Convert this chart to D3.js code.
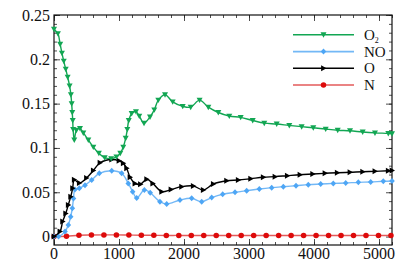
<!DOCTYPE html>
<html>
<head>
<meta charset="utf-8">
<script src="https://cdn.jsdelivr.net/npm/d3@7/dist/d3.min.js"></script>
</head>
<body style="margin:0">
<script>
var svgWidth = 415;
var svgHeight = 277;

// O2 (green)
var o2Time = [0, 60, 95, 122, 150, 180, 210, 240, 260, 272, 281, 288, 294, 312, 345, 400, 451, 528, 605, 690, 780, 880, 960, 1020, 1066, 1103, 1128, 1150, 1195, 1261, 1312, 1385, 1477, 1543, 1605, 1708, 1826, 1980, 2103, 2240, 2374, 2528, 2697, 2872, 3057, 3235, 3426, 3620, 3810, 3989, 4180, 4365, 4554, 4749, 4938, 5143, 5200];
var o2Value = [0.234, 0.229, 0.217, 0.207, 0.198, 0.189, 0.180, 0.170, 0.160, 0.150, 0.140, 0.131, 0.121, 0.109, 0.120, 0.122, 0.117, 0.109, 0.101, 0.094, 0.089, 0.088, 0.090, 0.094, 0.101, 0.111, 0.121, 0.131, 0.139, 0.141, 0.136, 0.128, 0.135, 0.143, 0.154, 0.160, 0.152, 0.147, 0.146, 0.154, 0.146, 0.140, 0.136, 0.1345, 0.131, 0.128, 0.127, 0.1254, 0.124, 0.1228, 0.1213, 0.120, 0.1194, 0.118, 0.117, 0.1164, 0.116];

// NO (blue)
var noTime = [0, 70, 170, 220, 257, 282, 300, 323, 390, 477, 580, 697, 888, 1041, 1143, 1210, 1272, 1390, 1480, 1630, 1734, 1938, 2118, 2272, 2426, 2595, 2785, 2964, 3159, 3349, 3528, 3723, 3912, 4103, 4297, 4488, 4682, 4872, 5066, 5200];
var noValue = [0, 0, 0.0056, 0.013, 0.0225, 0.032, 0.043, 0.053, 0.0545, 0.058, 0.0638, 0.0714, 0.0743, 0.0714, 0.060, 0.0507, 0.0435, 0.0526, 0.0495, 0.0394, 0.0368, 0.0413, 0.0432, 0.0394, 0.044, 0.0477, 0.050, 0.0518, 0.0537, 0.0552, 0.0563, 0.0574, 0.0586, 0.0593, 0.060, 0.0605, 0.0612, 0.0616, 0.0624, 0.0627];

// O (black)
var oTime = [0, 92, 133, 180, 220, 257, 287, 312, 390, 500, 605, 708, 888, 1000, 1066, 1118, 1170, 1246, 1330, 1426, 1520, 1657, 1800, 1964, 2143, 2297, 2451, 2656, 2835, 3026, 3220, 3400, 3590, 3785, 3980, 4170, 4358, 4554, 4749, 4938, 5143, 5200];
var oValue = [0, 0.0056, 0.017, 0.026, 0.0357, 0.045, 0.0545, 0.064, 0.0605, 0.066, 0.0745, 0.0833, 0.087, 0.0855, 0.0826, 0.077, 0.067, 0.060, 0.059, 0.0646, 0.060, 0.0507, 0.053, 0.0563, 0.0571, 0.0526, 0.0593, 0.063, 0.0638, 0.0653, 0.0669, 0.0676, 0.0687, 0.0698, 0.0706, 0.0714, 0.072, 0.0725, 0.0732, 0.0736, 0.0743, 0.0745];

// N (red)
var nTime = [0, 192, 384, 576, 768, 960, 1152, 1344, 1536, 1728, 1920, 2112, 2304, 2496, 2688, 2880, 3072, 3264, 3456, 3648, 3840, 4032, 4224, 4416, 4608, 4800, 4992, 5184];
var nValue = [0, 0.0004, 0.0015, 0.0018, 0.0019, 0.0019, 0.0017, 0.0015, 0.0014, 0.0013, 0.0013, 0.0012, 0.0012, 0.0012, 0.0012, 0.0012, 0.0012, 0.0012, 0.0012, 0.0012, 0.0012, 0.0012, 0.0012, 0.0012, 0.0012, 0.0013, 0.0013, 0.0013];

var xTicks = [0, 1000, 2000, 3000, 4000, 5000];
var yTicks = [0, 0.05, 0.1, 0.15, 0.2, 0.25];
var yTickLabels = ["0", "0.05", "0.1", "0.15", "0.2", "0.25"];

var mLeft = 54, mRight = 392, mTop = 15, mBottom = 245;

var x = d3.scaleLinear().domain([0, 5200]).range([mLeft, mRight]);
var y = d3.scaleLinear().domain([-0.0095, 0.25]).range([mBottom, mTop]);

var svg = d3.select("body")
    .append("svg")
    .attr("width", svgWidth)
    .attr("height", svgHeight);

var minorX = d3.range(0, 5201, 200);
var minorY = d3.range(0, 0.2501, 0.01);

// ticks on all four sides, pointing inward
function tickAxes(size, xv, yv) {
    svg.append("g").attr("transform", "translate(0," + mBottom + ")")
        .call(d3.axisBottom(x).tickValues(xv).tickSize(-size).tickSizeOuter(0).tickFormat(""));
    svg.append("g").attr("transform", "translate(0," + mTop + ")")
        .call(d3.axisTop(x).tickValues(xv).tickSize(-size).tickSizeOuter(0).tickFormat(""));
    svg.append("g").attr("transform", "translate(" + mLeft + ",0)")
        .call(d3.axisLeft(y).tickValues(yv).tickSize(-size).tickSizeOuter(0).tickFormat(""));
    svg.append("g").attr("transform", "translate(" + mRight + ",0)")
        .call(d3.axisRight(y).tickValues(yv).tickSize(-size).tickSizeOuter(0).tickFormat(""));
}
tickAxes(3, minorX, minorY);
tickAxes(6, xTicks, yTicks);

svg.selectAll(".domain").remove();
svg.selectAll(".tick line").attr("stroke", "#222").attr("stroke-width", 0.8);
svg.selectAll(".tick text").remove();

// tick labels
svg.append("g").selectAll("text")
    .data(xTicks)
    .enter()
    .append("text")
    .attr("x", function (d) { return x(d); })
    .attr("y", 259)
    .attr("text-anchor", "middle")
    .attr("font-size", 16)
    .attr("fill", "#111")
    .style("font-family", "'Liberation Serif'")
    .text(function (d) { return d; });

svg.append("g").selectAll("text")
    .data(yTicks)
    .enter()
    .append("text")
    .attr("x", 50)
    .attr("y", function (d) { return y(d) + 5.5; })
    .attr("text-anchor", "end")
    .attr("font-size", 16)
    .attr("fill", "#111")
    .style("font-family", "'Liberation Serif'")
    .text(function (d, i) { return yTickLabels[i]; });

// frame
svg.append("rect")
    .attr("x", mLeft).attr("y", mTop)
    .attr("width", mRight - mLeft).attr("height", mBottom - mTop)
    .attr("fill", "none").attr("stroke", "#111").attr("stroke-width", 1.2);

var series = [
    { name: "O2", t: o2Time, v: o2Value, line: "#12a653", fill: "#12a653", opacity: 1, marker: "down" },
    { name: "NO", t: noTime, v: noValue, line: "#5aacf5", fill: "#4ea6f5", opacity: 0.85, marker: "diamond" },
    { name: "O", t: oTime, v: oValue, line: "#000000", fill: "#000000", opacity: 1, marker: "right" },
    { name: "N", t: nTime, v: nValue, line: "#e04848", fill: "#dd0a0a", opacity: 0.9, marker: "circle" }
];

var lineGen = d3.line()
    .x(function (d) { return x(d[0]); })
    .y(function (d) { return y(d[1]); })
    .curve(d3.curveCatmullRom.alpha(0.5));

function markerPath(type) {
    if (type === "down") return "M-3,-2.4L3,-2.4L0,3Z";
    if (type === "right") return "M-2.4,-3L3,0L-2.4,3Z";
    if (type === "diamond") return "M0,-3L2.8,0L0,3L-2.8,0Z";
    return d3.symbol().type(d3.symbolCircle).size(24)();
}

// draw N first so others lie above it, O2 last
var drawOrder = [3, 1, 2, 0];
drawOrder.forEach(function (k) {
    var s = series[k];
    var pts = s.t.map(function (t, i) { return [t, s.v[i]]; });
    svg.append("path")
        .datum(pts)
        .attr("d", lineGen)
        .attr("fill", "none")
        .attr("stroke", s.line)
        .attr("stroke-opacity", s.opacity)
        .attr("stroke-width", 1.4);
    svg.append("g").selectAll("path")
        .data(pts)
        .enter()
        .append("path")
        .attr("transform", function (d) { return "translate(" + x(d[0]) + "," + y(d[1]) + ")"; })
        .attr("d", markerPath(s.marker))
        .attr("fill", s.fill);
});

// legend
var legend = svg.append("g");
var rowY = [34.7, 51.6, 68.3, 85];
series.forEach(function (s, i) {
    legend.append("line")
        .attr("x1", 293).attr("x2", 354)
        .attr("y1", rowY[i]).attr("y2", rowY[i])
        .attr("stroke", s.line)
        .attr("stroke-opacity", s.opacity)
        .attr("stroke-width", 1.6);
    legend.append("path")
        .attr("transform", "translate(323.5," + rowY[i] + ")")
        .attr("d", markerPath(s.marker))
        .attr("fill", s.fill);
    var t = legend.append("text")
        .attr("x", 364)
        .attr("y", rowY[i] + 5)
        .attr("font-size", 15)
        .attr("fill", "#111")
        .style("font-family", "'Liberation Serif'");
    if (s.name === "O2") {
        t.append("tspan").text("O");
        t.append("tspan").attr("font-size", 8).attr("dy", 3).text("2");
    } else {
        t.text(s.name);
    }
});
</script>
</body>
</html>
